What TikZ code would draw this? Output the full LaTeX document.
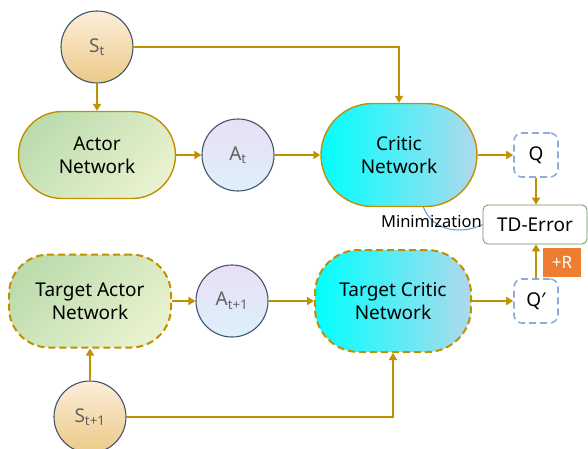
\documentclass[tikz,border=0pt]{standalone}
\usepackage{fontspec}
\setmainfont{Noto Sans}
\usetikzlibrary{arrows.meta,shapes.misc}

\definecolor{gold}{HTML}{BF9000}
\definecolor{slate}{HTML}{44546A}
\definecolor{qblue}{HTML}{8FAADC}
\definecolor{tdgreen}{HTML}{6F8F55}
\definecolor{curveblue}{HTML}{5B9BD5}
\definecolor{rorange}{HTML}{ED7D31}
\definecolor{sandA}{HTML}{FCEEDA}
\definecolor{sandB}{HTML}{ECC987}
\definecolor{lilacA}{HTML}{EADFF6}
\definecolor{lilacB}{HTML}{DCF0FA}
\definecolor{leafA}{HTML}{BDDCAE}
\definecolor{leafB}{HTML}{E8F2CE}
\definecolor{skyB}{HTML}{B0D9EC}

\begin{document}
\begin{tikzpicture}[x=1pt, y=-1pt,
    font=\fontsize{19}{23}\selectfont,
    arr/.style={gold, line width=2pt, -{Triangle[length=7pt,width=8pt]}},
    state/.style={circle, draw=slate, line width=1.1pt, minimum size=72pt,
      inner sep=0pt, text=black!62, shading angle=45},
    sfill/.style={top color=sandA, bottom color=sandB},
    afill/.style={top color=lilacA, bottom color=lilacB},
    gfill/.style={top color=leafA, bottom color=leafB, shading angle=45},
    cfill/.style={left color=cyan, right color=skyB},
    net/.style={rounded rectangle, draw=gold, line width=1.4pt, align=center, inner sep=0pt},
    tnet/.style={rectangle, rounded corners=44pt, draw=gold, line width=2pt,
      dash pattern=on 7pt off 4pt, align=center, inner sep=0pt},
    qbox/.style={draw=qblue, line width=1.6pt, dash pattern=on 7pt off 4pt,
      rounded corners=8pt, minimum size=44pt, inner sep=0pt}]

  \useasboundingbox (0,0) rectangle (588,449);

  % upper row
  \node[state, sfill] (st) at (97,47) {S\textsubscript{t}};
  \node[net, gfill, minimum width=157pt, minimum height=87pt] (actor) at (97,155) {Actor\\Network};
  \node[state, afill] (at) at (238,155) {A\textsubscript{t}};
  \node[net, cfill, minimum width=156pt, minimum height=103pt] (critic) at (399,155) {Critic\\Network};
  \node[qbox] (q) at (536,155) {Q};

  % lower row
  \node[tnet, gfill, minimum width=162pt, minimum height=93pt, rounded corners=40pt] (tactor) at (90,301) {Target Actor\\Network};
  \node[state, afill] (at1) at (232,301) {A\textsubscript{t+1}};
  \node[tnet, cfill, minimum width=156pt, minimum height=102pt] (tcritic) at (393,301) {Target Critic\\Network};
  \node[qbox] (qp) at (536,301) {Q′};
  \node[state, sfill] (st1) at (90,417) {S\textsubscript{t+1}};

  % error
  \node[draw=tdgreen, line width=0.8pt, rounded corners=5pt, minimum width=104pt,
    minimum height=39pt, inner sep=0pt] (td) at (535,224.5) {TD-Error};
  \node[fill=rorange, text=white, minimum width=38pt, minimum height=29pt, inner sep=0pt,
    font=\fontsize{17}{20}\selectfont] (rew) at (562,262.5) {+R};

  \draw[curveblue, line width=1pt] (critic.295) .. controls +(10,25) and +(-20,10) .. (td.west);
  \node[font=\fontsize{16.5}{20}\selectfont, inner sep=0pt, anchor=east] (mini) at (482,222) {Minimization};

  % connectors
  \draw[arr] (st) -- (actor);
  \draw[arr] (st.east) -| (critic.north);
  \draw[arr] (actor.east) -- (at.west);
  \draw[arr] (at.east) -- (critic.west);
  \draw[arr] (critic.east) -- (q.west);
  \draw[arr] (q) -- (q |- td.north);

  \draw[arr] (tactor.east) -- (at1.west);
  \draw[arr] (at1.east) -- (tcritic.west);
  \draw[arr] (tcritic.east) -- (qp.west);
  \draw[arr] (qp) -- (qp |- td.south);
  \draw[arr] (st1) -- (tactor);
  \draw[arr] (st1.east) -| (tcritic.south);
\end{tikzpicture}
\end{document}
